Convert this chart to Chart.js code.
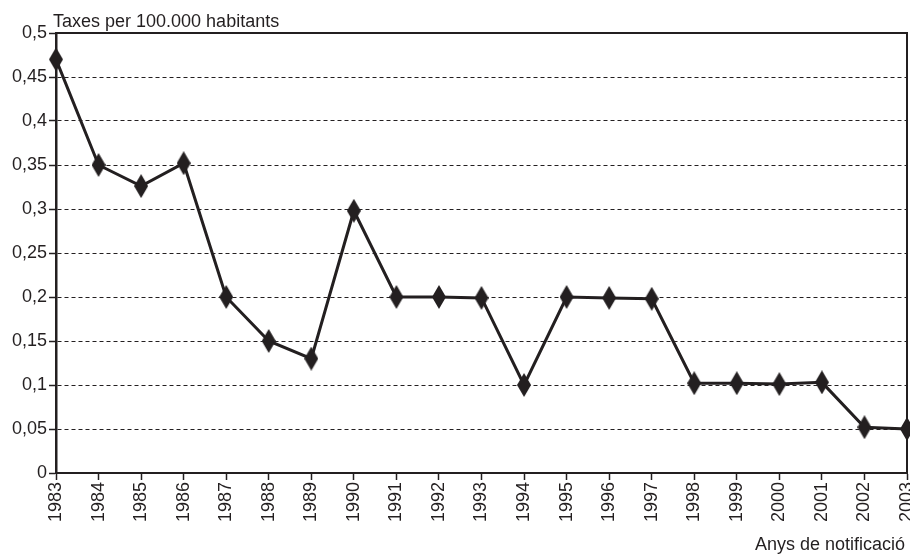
<!DOCTYPE html>
<html>
<head>
<meta charset="utf-8">
<style>
  html, body { margin: 0; padding: 0; background: #fff; overflow: hidden; }
  #wrap { width: 910px; height: 554px; position: relative; overflow: hidden; }
</style>
<script src="https://cdn.jsdelivr.net/npm/chart.js@4/dist/chart.umd.min.js"></script>
</head>
<body>
<div id="wrap"><canvas id="chart" width="918" height="554"></canvas></div>
<script>
/* ── DATA ── */
const YEARS = ['1983','1984','1985','1986','1987','1988','1989','1990','1991','1992','1993',
               '1994','1995','1996','1997','1998','1999','2000','2001','2002','2003'];
const RATES = [0.47, 0.35, 0.326, 0.352, 0.2, 0.15, 0.13, 0.298, 0.2, 0.2, 0.199,
               0.1, 0.2, 0.199, 0.198, 0.102, 0.102, 0.101, 0.103, 0.052, 0.05];
const Y_TITLE = 'Taxes per 100.000 habitants';
const X_TITLE = 'Anys de notificació';

const INK = '#231f20';
const FONT = "'Liberation Sans', Arial, Helvetica, sans-serif";

/* ── DIAMOND MARKER ── */
function diamond(w, h) {
  const c = document.createElement('canvas');
  c.width = w; c.height = h;
  const g = c.getContext('2d');
  g.fillStyle = INK;
  g.beginPath();
  g.moveTo(w / 2, 0);
  g.lineTo(w, h / 2);
  g.lineTo(w / 2, h);
  g.lineTo(0, h / 2);
  g.closePath();
  g.fill();
  return c;
}
const marker = diamond(14, 24);

/* ── FRAME + TITLES ── */
const frame = {
  id: 'frame',
  afterDraw(chart) {
    const { ctx, chartArea: a } = chart;
    ctx.save();
    ctx.strokeStyle = INK;
    ctx.lineWidth = 2;
    ctx.beginPath();
    ctx.moveTo(a.left, a.top);
    ctx.lineTo(a.right, a.top);
    ctx.lineTo(a.right, a.bottom);
    ctx.stroke();
    ctx.fillStyle = INK;
    ctx.font = '18px ' + FONT;
    ctx.textBaseline = 'alphabetic';
    ctx.textAlign = 'left';
    ctx.fillText(Y_TITLE, 53, 27);
    ctx.textAlign = 'right';
    ctx.fillText(X_TITLE, 905, 550);
    ctx.restore();
  }
};

Chart.defaults.font.family = FONT;
Chart.defaults.font.size = 18;
Chart.defaults.color = INK;

new Chart(document.getElementById('chart'), {
  type: 'line',
  data: {
    labels: YEARS,
    datasets: [{
      data: RATES,
      borderColor: INK,
      borderWidth: 3,
      tension: 0,
      pointStyle: marker,
      pointRadius: 8,
      pointHoverRadius: 8
    }]
  },
  options: {
    responsive: false,
    animation: false,
    layout: { padding: { top: 33, right: 3, left: 0, bottom: 0 } },
    plugins: { legend: { display: false }, tooltip: { enabled: false }, title: { display: false } },
    scales: {
      x: {
        offset: false,
        grid: { drawOnChartArea: false, drawTicks: true, tickLength: 7, tickColor: INK, tickWidth: 1.5 },
        border: { color: INK, width: 2 },
        ticks: { autoSkip: false, minRotation: 90, maxRotation: 90, padding: 2, color: INK },
        afterFit(s) { s.height = 81; s.paddingRight = 0; s.paddingLeft = 0; }
      },
      y: {
        min: 0,
        max: 0.5,
        grid: { color: INK, lineWidth: 1, tickLength: 7, tickColor: INK, tickWidth: 1.5, tickBorderDash: [] },
        border: { color: INK, width: 2.5, dash: [4, 3] },
        ticks: {
          stepSize: 0.05,
          padding: 2,
          color: INK,
          callback: v => Number(v.toFixed(2)).toString().replace('.', ',')
        },
        afterFit(s) { s.width = 56; }
      }
    }
  },
  plugins: [frame]
});
</script>
</body>
</html>
